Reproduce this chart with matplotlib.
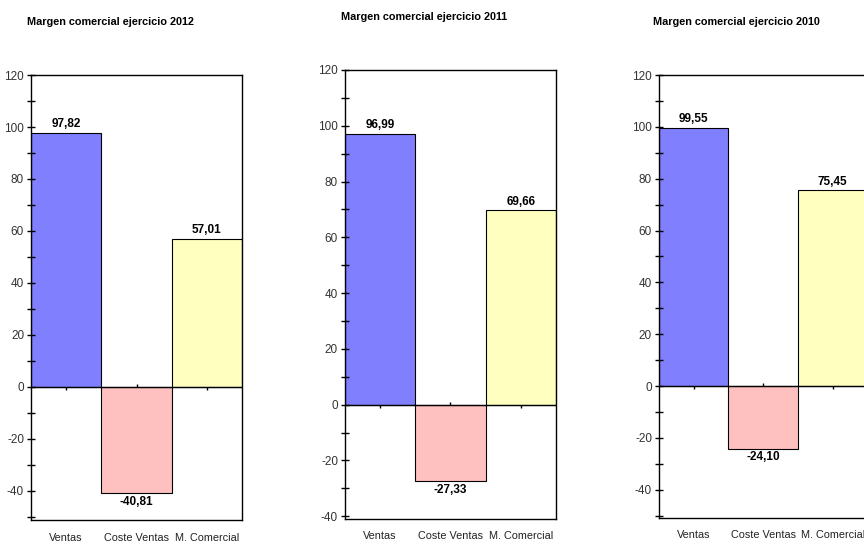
import matplotlib
matplotlib.use("Agg")
import matplotlib.pyplot as plt
from matplotlib import font_manager
from matplotlib.ticker import MultipleLocator

# margen comercial por ejercicio
categorias = ["Ventas", "Coste Ventas", "M. Comercial"]
ejercicios = ["2012", "2011", "2010"]
valores_2012 = [97.82, -40.81, 57.01]
valores_2011 = [96.99, -27.33, 69.66]
valores_2010 = [99.55, -24.10, 75.45]
colores = ["#8080ff", "#ffc0c0", "#ffffc0"]

nombres = {f.name for f in font_manager.fontManager.ttflist}
fuente = "Liberation Sans Narrow" if "Liberation Sans Narrow" in nombres else "Liberation Sans"
estrecha = fuente == "Liberation Sans Narrow"
plt.rcParams["font.family"] = [fuente, "DejaVu Sans"]
plt.rcParams["axes.unicode_minus"] = False

fig = plt.figure(figsize=(8.64, 5.44), dpi=100)

# left, bottom, width, height, y min, title x, title y
paneles = [
    (valores_2012, [0.0359, 0.0441, 0.2442, 0.818], -51.2, 0.031, 0.9596),
    (valores_2011, [0.3993, 0.0460, 0.2442, 0.8254], -41.0, 0.3947, 0.9688),
    (valores_2010, [0.7627, 0.0478, 0.2413, 0.8143], -50.9, 0.7558, 0.9596),
]

for (valores, rect, ymin, tx, ty), anio in zip(paneles, ejercicios):
    ax = fig.add_axes(rect)
    x = range(len(categorias))
    barras = ax.bar(x, valores, width=1.0, color=colores, edgecolor="black", linewidth=0.8)
    etiquetas = [f"{v:.2f}".replace(".", ",") for v in valores]
    ax.bar_label(barras, labels=etiquetas, padding=2, fontsize=8.5, fontweight="bold")
    ax.axhline(0, color="black", linewidth=1.0)

    ax.set_xlim(-0.5, 2.5)
    ax.set_ylim(ymin, 120)
    ax.yaxis.set_major_locator(MultipleLocator(20))
    ax.yaxis.set_minor_locator(MultipleLocator(10))
    ax.tick_params(axis="y", which="both", direction="inout", length=6, width=1,
                   labelsize=8.5, colors="black", labelcolor="#333333", pad=2)
    ax.set_xticks(list(x))
    ax.set_xticklabels(categorias, fontsize=9 if estrecha else 7.8, color="#222222")
    ax.tick_params(axis="x", length=0, pad=9)

    # ticks de categoria sobre la linea de cero
    eje0 = ax.secondary_xaxis(0, transform=ax.transData)
    eje0.set_xticks(list(x))
    eje0.tick_params(axis="x", direction="inout", length=5, width=1, labelbottom=False)
    eje0.spines["bottom"].set_visible(False)

    for s in ax.spines.values():
        s.set_linewidth(1.0)

    fig.text(tx, ty, f"Margen comercial ejercicio {anio}", fontsize=7.8,
             fontweight="bold", ha="left", va="center", family="Liberation Sans")

fig.savefig("out.png", dpi=100)
